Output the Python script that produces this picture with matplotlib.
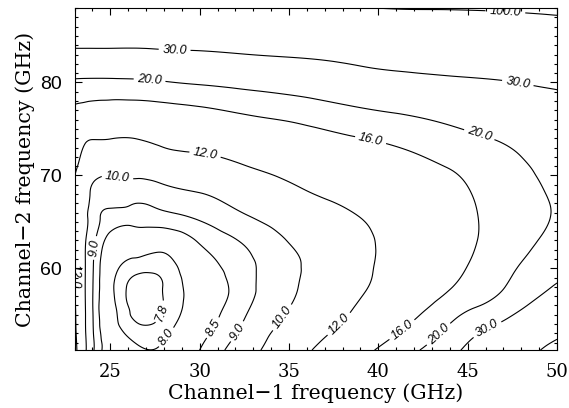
import numpy as np
import matplotlib.pyplot as plt
import matplotlib.tri as mtri
from matplotlib.ticker import MultipleLocator

ch1 = [23, 23.5, 24, 25, 26.5, 28, 30, 32.5, 35, 38, 41, 44, 47, 50]
ch2 = [51.2, 53, 55.5, 58, 60.5, 63, 65.5, 68, 71, 74, 77, 80, 83, 85.5, 88]

# contour field, one row per ch2 value
err = [
    [12.6, 10.5, 9.15, 8.3, 8.05, 8.05, 8.5, 9.5, 11.0, 13.7, 17.7, 26.1, 54, 132],
    [12.4, 10.4, 9.1, 8.2, 7.9, 7.95, 8.35, 9.2, 10.6, 12.6, 15.9, 21.8, 39, 85],
    [12.25, 10.35, 9.05, 8.1, 7.72, 7.81, 8.2, 8.9, 10.03, 11.6, 14.3, 18.0, 24.8, 47],
    [12.15, 10.3, 9.05, 8.08, 7.73, 7.81, 8.18, 8.75, 9.8, 11.05, 13.2, 15.8, 19.8, 31.5],
    [12.08, 10.3, 9.1, 8.15, 7.92, 7.9, 8.3, 8.8, 9.75, 10.9, 12.8, 14.8, 18.6, 24.5],
    [12.02, 10.35, 9.25, 8.35, 8.25, 8.2, 8.55, 9.1, 10.05, 11.0, 12.7, 14.4, 17.8, 21.3],
    [11.98, 10.55, 9.5, 8.75, 8.65, 8.8, 9.1, 9.85, 10.7, 11.6, 12.9, 14.4, 17.6, 20.3],
    [11.96, 10.9, 9.75, 9.4, 9.35, 9.6, 9.95, 10.8, 11.6, 12.5, 13.5, 14.9, 17.9, 20.5],
    [12.4, 11.4, 10.8, 10.6, 10.6, 10.9, 11.2, 11.95, 12.6, 13.8, 14.8, 16.2, 18.6, 21.5],
    [13.9, 12.5, 12.1, 12.05, 12.05, 12.6, 13.0, 13.6, 14.4, 15.6, 16.7, 18.6, 20.5, 23.8],
    [15.6, 15.3, 15.0, 14.8, 14.7, 15.0, 15.5, 16.5, 17.4, 19.0, 20.5, 22, 24, 27],
    [19.2, 19.1, 19.05, 19.05, 19.2, 19.7, 20.5, 21.5, 22.6, 24.5, 26.5, 28, 29.5, 31.8],
    [27.5, 27.5, 27.5, 27.5, 27.5, 28, 28.5, 29.8, 31, 33, 36, 38, 40, 47],
    [38, 38, 38, 38, 38, 39, 40, 42, 44, 48, 52, 55, 60, 74],
    [55, 55, 55, 55, 56, 58, 60, 65, 70, 90, 103, 105, 110, 115],
]

# a few more readings in the lower right, where the field bends fast
extra_ch1 = [45.5, 45.5, 45.5, 45.5, 45.5, 45.5, 48.5, 48.5, 48.5, 48.5, 48.5]
extra_ch2 = [53, 55.5, 58, 60.5, 63, 65.5, 53, 55.5, 58, 60.5, 63]
extra_err = [29.2, 20.7, 17.7, 16.6, 15.95, 15.9, 57.5, 34, 24.5, 21.0, 19.5]

levels = [7.8, 8.0, 8.5, 9.0, 10.0, 12.0, 16.0, 20.0, 30.0, 100.0]

# where the labels sit
label_pos = [(47.1, 87.35), (28.6, 83.5), (47.8, 79.9), (46.1, 53.4),
             (27.2, 80.3), (45.7, 74.7), (43.3, 53.05),
             (39.6, 74.1), (41.2, 53.7),
             (30.3, 72.2), (37.85, 53.9), (23.1, 59.1),
             (25.4, 70.0), (34.8, 54.45),
             (24.1, 62.2), (32.1, 53.2),
             (30.75, 53.6), (28.2, 52.5), (27.7, 55.4)]

X, Y = np.meshgrid(ch1, ch2)
px = np.concatenate([X.ravel(), extra_ch1])
py = np.concatenate([Y.ravel(), extra_ch2])
pv = np.concatenate([np.array(err).ravel(), extra_err])

tri = mtri.Triangulation(px, py)
refiner = mtri.UniformTriRefiner(tri)
tri_f, logz = refiner.refine_field(np.log(pv), subdiv=4)
z = np.exp(logz)

fig = plt.figure(figsize=(5.69, 4.08), dpi=100)
ax = fig.add_axes([0.131, 0.142, 0.848, 0.838])

cs = ax.tricontour(tri_f, z, levels=levels, colors='k', linewidths=0.8)
lbls = ax.clabel(cs, fmt='%.1f', manual=label_pos, inline=True,
                 inline_spacing=2, fontsize=9)
for t in lbls:
    t.set_fontstyle('italic')
    t.set_family('Liberation Sans')

ax.set_xlim(23, 50)
ax.set_ylim(51.2, 88)
ax.xaxis.set_major_locator(MultipleLocator(5))
ax.xaxis.set_minor_locator(MultipleLocator(1))
ax.yaxis.set_major_locator(MultipleLocator(10))
ax.yaxis.set_minor_locator(MultipleLocator(1))
ax.tick_params(which='both', direction='in', top=True, right=True, width=0.8)
ax.tick_params(which='major', length=5, labelsize=13, pad=9)
ax.tick_params(which='minor', length=2.5)
for t in ax.get_xticklabels():
    t.set_family('DejaVu Serif')
for t in ax.get_yticklabels():
    t.set_family('Liberation Sans')
    t.set_fontsize(14)
for s in ax.spines.values():
    s.set_linewidth(0.8)

ax.set_xlabel('Channel\u22121 frequency (GHz)', family='DejaVu Serif',
              fontsize=14.8, labelpad=2)
ax.set_ylabel('Channel\u22122 frequency (GHz)', family='DejaVu Serif',
              fontsize=14.8, labelpad=4)

fig.savefig('out.png', dpi=100)
